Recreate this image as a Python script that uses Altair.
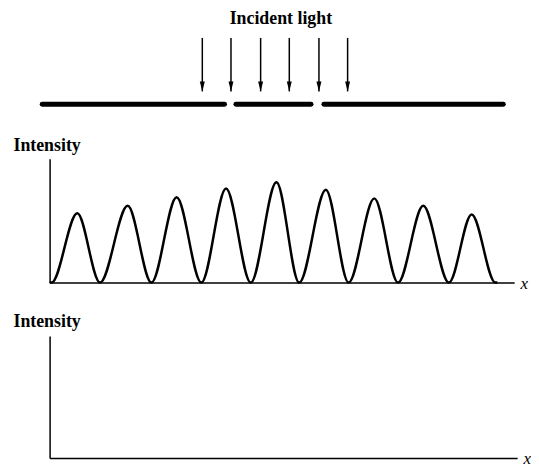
import altair as alt
import pandas as pd

# ---------------- data ----------------
# Top diagram (x in the same units as the intensity plot, y = height above the slit plate)
caption = ["Incident light"]
caption_x = [4.68]
caption_y = [87]
arrow_x = [3.09, 3.67, 4.27, 4.85, 5.45, 6.03]
arrow_top = [68, 68, 68, 68, 68, 68]
arrow_tip = [14, 14, 14, 14, 14, 14]
plate_start = [-0.15, 3.77, 5.55]
plate_end = [3.54, 5.29, 9.18]
plate_level = [1, 1, 1]

# Interference pattern: maxima and zeros (the pattern rests on the axis at both ends)
peak_x = [0.56, 1.58, 2.57, 3.57, 4.59, 5.59, 6.57, 7.56, 8.54]
peak_y = [0.56, 0.62, 0.69, 0.76, 0.81, 0.75, 0.68, 0.62, 0.55]
zero_x = [0.04, 1.02, 2.06, 3.07, 4.07, 5.05, 6.05, 7.05, 8.08, 9.02]
rest_x = [0.0, 9.06]

# ---------------- tables ----------------
px, py = [rest_x[0]], [0.0]
for i, z in enumerate(zero_x):
    px.append(z); py.append(0.0)
    if i < len(peak_x):
        px.append(peak_x[i]); py.append(peak_y[i])
px.append(rest_x[1]); py.append(0.0)
pattern = pd.DataFrame({"x": px, "y": py})

plate = pd.DataFrame({"start": plate_start, "end": plate_end, "level": plate_level})
arrows = pd.DataFrame({"x": arrow_x, "top": arrow_top, "tip": arrow_tip})
label = pd.DataFrame({"x": caption_x, "y": caption_y, "text": caption})

SERIF = "Liberation Serif"
xs = alt.Scale(domain=[0, 9.4], nice=False, zero=False)
top_y = alt.Scale(domain=[0, 96], nice=False, zero=False)

# ---------------- top panel ----------------
plate_marks = alt.Chart(plate).mark_rule(strokeWidth=5, color="black", strokeCap="round").encode(
    x=alt.X("start:Q", scale=xs, axis=None),
    x2="end:Q",
    y=alt.Y("level:Q", scale=top_y, axis=None),
)
shafts = alt.Chart(arrows).mark_rule(strokeWidth=1.5, color="black").encode(
    x=alt.X("x:Q", scale=xs, axis=None),
    y=alt.Y("top:Q", scale=top_y, axis=None),
    y2="tip:Q",
)
heads = alt.Chart(arrows).mark_point(
    shape="M-0.5,-1L0.5,-1L0,1Z", filled=True, size=100, color="black", opacity=1, yOffset=-5
).encode(
    x=alt.X("x:Q", scale=xs, axis=None),
    y=alt.Y("tip:Q", scale=top_y, axis=None),
)
caption_mark = alt.Chart(label).mark_text(
    font=SERIF, fontSize=18, fontWeight="bold", color="black"
).encode(
    x=alt.X("x:Q", scale=xs, axis=None),
    y=alt.Y("y:Q", scale=top_y, axis=None),
    text="text:N",
)
top = alt.layer(plate_marks, shafts, heads, caption_mark).properties(width=469, height=96)


def x_axis(width):
    return alt.Axis(
        title="x", titleX=width + 6, titleY=1, titleAlign="left", titleBaseline="middle",
        titleFont=SERIF, titleFontStyle="italic", titleFontWeight="normal", titleFontSize=17,
        titleColor="black",
    )


def y_axis(ty):
    return alt.Axis(
        title="Intensity", titleAngle=0, titleX=-37, titleY=ty, titleAlign="left",
        titleBaseline="middle", titleFont=SERIF, titleFontWeight="bold", titleFontSize=18,
        titleColor="black",
    )


# ---------------- middle panel ----------------
middle = alt.Chart(pattern).mark_line(color="black", strokeWidth=2.5, interpolate="monotone").encode(
    x=alt.X("x:Q", scale=xs, axis=x_axis(469)),
    y=alt.Y("y:Q", scale=alt.Scale(domain=[0, 1], nice=False), axis=y_axis(-13)),
).properties(width=469, height=125)

# ---------------- bottom panel (empty) ----------------
empty = pd.DataFrame({"x": pd.Series([], dtype=float), "y": pd.Series([], dtype=float)})
bottom = alt.Chart(empty).mark_line(color="black").encode(
    x=alt.X("x:Q", scale=alt.Scale(domain=[0, 9.46], nice=False, zero=False), axis=x_axis(472)),
    y=alt.Y("y:Q", scale=alt.Scale(domain=[0, 1], nice=False), axis=y_axis(-15)),
).properties(width=472, height=123)

chart = alt.vconcat(top, middle, bottom, spacing=54, bounds="flush").properties(
    padding={"left": 5, "top": 0, "right": 0, "bottom": 0}
).configure_view(stroke=None).configure_axis(
    domainColor="black", domainWidth=1.5, ticks=False, labels=False, grid=False
)

chart.save("out.html", embed_options={"renderer": "svg", "actions": False})
